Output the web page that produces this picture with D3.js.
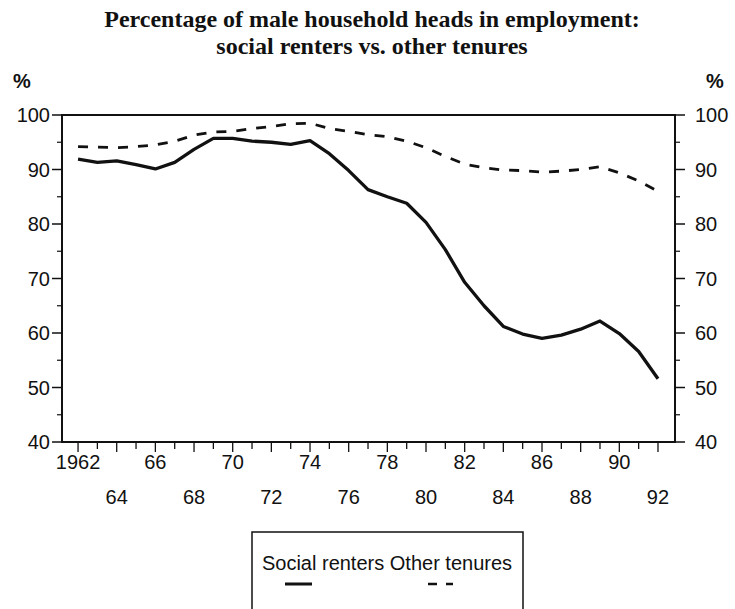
<!DOCTYPE html>
<html>
<head>
<meta charset="utf-8">
<script src="https://cdn.jsdelivr.net/npm/d3@7"></script>
<style>
  body { margin: 0; background: #fff; }
  svg { display: block; }
  .tick-label { font-family: "Liberation Sans", Arial, sans-serif; font-size: 20px; fill: #111; }
  .title { font-family: "Liberation Serif", "Times New Roman", serif; font-weight: bold; font-size: 24px; fill: #111; }
</style>
</head>
<body>
<svg width="735" height="609"></svg>
<script>
// years on the x axis
const years = d3.range(1962, 1993);

// % of male household heads in employment
const socialRenters = [
  91.9, 91.3, 91.6, 90.9, 90.1, 91.3, 93.7, 95.7, 95.7, 95.2,
  95.0, 94.6, 95.3, 92.9, 89.8, 86.3, 85.0, 83.8, 80.3, 75.3,
  69.3, 65.0, 61.2, 59.8, 59.0, 59.6, 60.7, 62.2, 59.9, 56.6, 51.6
];
const otherTenures = [
  94.2, 94.1, 94.0, 94.2, 94.5, 95.2, 96.3, 96.9, 97.0, 97.5,
  97.9, 98.4, 98.5, 97.5, 97.0, 96.4, 96.0, 95.2, 94.0, 92.4,
  91.0, 90.3, 89.9, 89.8, 89.5, 89.7, 90.0, 90.5, 89.4, 87.9, 86.0
];

const yTicks = [40, 50, 60, 70, 80, 90, 100];
const xLabelsTop = ["1962", "66", "70", "74", "78", "82", "86", "90"];
const xLabelsBottom = ["64", "68", "72", "76", "80", "84", "88", "92"];
const seriesNames = ["Social renters", "Other tenures"];

const svg = d3.select("svg");

const box = { left: 62, right: 675, top: 115, bottom: 442 };

const x = d3.scaleLinear()
  .domain([1961.17, 1992.88])
  .range([box.left, box.right]);
const y = d3.scaleLinear()
  .domain([40, 100])
  .range([box.bottom, box.top]);

// title
svg.append("text").attr("class", "title")
  .attr("x", 372).attr("y", 27).attr("text-anchor", "middle")
  .text("Percentage of male household heads in employment:");
svg.append("text").attr("class", "title")
  .attr("x", 372).attr("y", 54).attr("text-anchor", "middle")
  .text("social renters vs. other tenures");

// % unit labels
svg.append("text").attr("class", "tick-label")
  .attr("x", 22).attr("y", 88).attr("text-anchor", "middle")
  .style("font-weight", "bold").text("%");
svg.append("text").attr("class", "tick-label")
  .attr("x", 715).attr("y", 88).attr("text-anchor", "middle")
  .style("font-weight", "bold").text("%");

// frame
svg.append("rect")
  .attr("x", box.left).attr("y", box.top)
  .attr("width", box.right - box.left).attr("height", box.bottom - box.top)
  .attr("fill", "none").attr("stroke", "#111").attr("stroke-width", 2);

// y ticks, majors every 10 and minors every 5
const yMinor = d3.range(45, 100, 10);
function yAxisTicks(side) {
  const dir = side === "left" ? -1 : 1;
  const x0 = side === "left" ? box.left : box.right;
  const g = svg.append("g");
  g.selectAll("line.major").data(yTicks).enter().append("line")
    .attr("x1", x0).attr("x2", x0 + dir * 10)
    .attr("y1", d => y(d)).attr("y2", d => y(d))
    .attr("stroke", "#111").attr("stroke-width", 1.5);
  g.selectAll("line.minor").data(yMinor).enter().append("line")
    .attr("x1", x0).attr("x2", x0 + dir * 5)
    .attr("y1", d => y(d)).attr("y2", d => y(d))
    .attr("stroke", "#111").attr("stroke-width", 1.2);
  g.selectAll("text").data(yTicks).enter().append("text")
    .attr("class", "tick-label")
    .attr("x", side === "left" ? 50 : 695)
    .attr("y", d => y(d) + 7)
    .attr("text-anchor", side === "left" ? "end" : "start")
    .text(d => d);
}
yAxisTicks("left");
yAxisTicks("right");

// x ticks, one per year
svg.append("g").selectAll("line").data(years).enter().append("line")
  .attr("x1", d => x(d)).attr("x2", d => x(d))
  .attr("y1", box.bottom).attr("y2", d => box.bottom + (d % 2 === 0 ? 10 : 7))
  .attr("stroke", "#111").attr("stroke-width", 1.3);

const labelYears = years.filter(d => d % 2 === 0);
svg.append("g").selectAll("text").data(labelYears).enter().append("text")
  .attr("class", "tick-label")
  .attr("x", d => x(d))
  .attr("y", (d, i) => i % 2 === 0 ? 469 : 504)
  .attr("text-anchor", "middle")
  .text((d, i) => i % 2 === 0 ? xLabelsTop[i / 2] : xLabelsBottom[(i - 1) / 2]);

// lines
const line = d3.line()
  .x((d, i) => x(years[i]))
  .y(d => y(d));

svg.append("path").datum(otherTenures)
  .attr("d", line)
  .attr("fill", "none").attr("stroke", "#111")
  .attr("stroke-width", 2.8).attr("stroke-dasharray", "10,10");

svg.append("path").datum(socialRenters)
  .attr("d", line)
  .attr("fill", "none").attr("stroke", "#111")
  .attr("stroke-width", 3.3).attr("stroke-linejoin", "round");

// legend, box runs off the bottom of the picture
const lg = svg.append("g");
lg.append("path")
  .attr("d", "M252,612 V532 H523 V612")
  .attr("fill", "none").attr("stroke", "#111").attr("stroke-width", 1.5);
lg.append("text").attr("class", "tick-label")
  .attr("x", 387).attr("y", 570).attr("text-anchor", "middle")
  .text(seriesNames.join(" "));
lg.append("line")
  .attr("x1", 285).attr("x2", 312).attr("y1", 584).attr("y2", 584)
  .attr("stroke", "#111").attr("stroke-width", 3);
lg.append("line")
  .attr("x1", 428).attr("x2", 453).attr("y1", 584).attr("y2", 584)
  .attr("stroke", "#111").attr("stroke-width", 2.5).attr("stroke-dasharray", "9,9");
</script>
</body>
</html>
